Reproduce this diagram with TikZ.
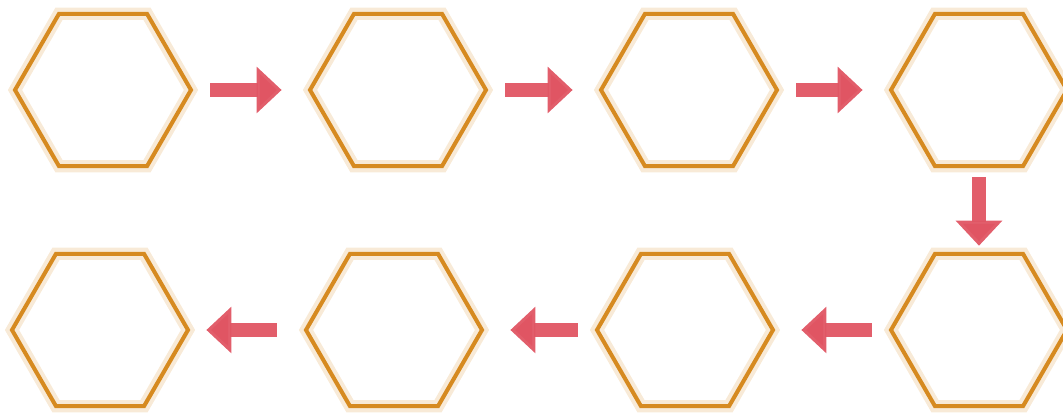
\documentclass[tikz,border=0pt]{standalone}
\usepackage{xcolor}
\usepackage{tikz}
\usetikzlibrary{positioning,arrows.meta,shapes.geometric}
\definecolor{honey}{HTML}{D68A20}
\definecolor{coral}{HTML}{E05563}
\tikzset{
  hex/.style={regular polygon, regular polygon sides=6,
              minimum size=3.52cm, inner sep=0pt, draw=honey, line width=2.3pt,
              preaction={draw=honey, draw opacity=0.18, line width=7pt}},
  flow/.style={-{Triangle[length=5mm,width=9mm]}, line width=2.8mm, draw=coral,
               draw opacity=0.95, shorten <=3.4mm, shorten >=5.2mm},
}
\begin{document}
\begin{tikzpicture}
  \useasboundingbox (0,0) rectangle (21.26,8.26);
  % top row
  \node[hex] (h1) at (2.06,6.46) {};
  \node[hex] (h2) at (7.96,6.46) {};
  \node[hex] (h3) at (13.78,6.46) {};
  \node[hex] (h4) at (19.58,6.46) {};
  % bottom row
  \node[hex] (h5) at (2.00,1.66) {};
  \node[hex] (h6) at (7.88,1.66) {};
  \node[hex] (h7) at (13.70,1.66) {};
  \node[hex] (h8) at (19.58,1.66) {};

  \draw[flow] (h1) -- (h2);
  \draw[flow] (h2) -- (h3);
  \draw[flow] (h3) -- (h4);
  \draw[flow, shorten <=1.8mm, shorten >=1.2mm] (h4) -- (h8);
  \draw[flow] (h8) -- (h7);
  \draw[flow] (h7) -- (h6);
  \draw[flow, shorten <=5.4mm, shorten >=3.2mm] (h6) -- (h5);
\end{tikzpicture}
\end{document}
